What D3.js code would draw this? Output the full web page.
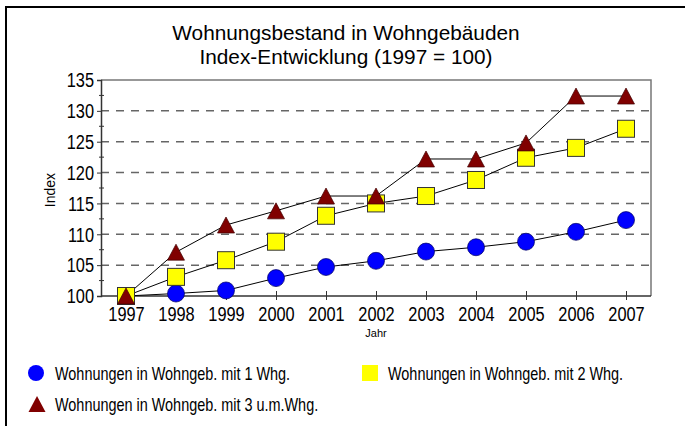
<!DOCTYPE html>
<html>
<head>
<meta charset="utf-8">
<style>
  body { margin: 0; background: #fff; }
  svg { display: block; }
  text { font-family: "Liberation Sans", Arial, sans-serif; }
</style>
</head>
<body>
<div id="chart-area"></div>
<script src="https://cdn.jsdelivr.net/npm/d3@7/dist/d3.min.js"></script>
<script>
// data
var years = ["1997","1998","1999","2000","2001","2002","2003","2004","2005","2006","2007"];
var einWhg = [100, 100.4, 100.9, 102.9, 104.7, 105.7, 107.2, 107.9, 108.8, 110.4, 112.3];
var zweiWhg = [100, 103.1, 105.8, 108.8, 113.0, 115.0, 116.2, 118.8, 122.4, 124.0, 127.1];
var dreiWhg = [100, 107.1, 111.5, 113.8, 116.2, 116.2, 122.2, 122.2, 124.8, 132.4, 132.4];
var seriesNames = ["Wohnungen in Wohngeb. mit 1 Whg.", "Wohnungen in Wohngeb. mit 2 Whg.", "Wohnungen in Wohngeb. mit 3 u.m.Whg."];
var yTicks = [100, 105, 110, 115, 120, 125, 130, 135];

var width = 685, height = 426;
var pLeft = 101, pRight = 651, pTop = 80, pBottom = 296;
var narrow = 0.78;   // no condensed font installed, squeeze Liberation Sans instead

var svg = d3.select("#chart-area").append("svg")
    .attr("width", width).attr("height", height);

// outer frame
svg.append("rect")
    .attr("x", 6).attr("y", 7)
    .attr("width", 700).attr("height", 450)
    .attr("fill", "none").attr("stroke", "#000").attr("stroke-width", 2);

var x = d3.scalePoint().domain(years).range([pLeft, pRight]).padding(0.5);
var y = d3.scaleLinear().domain([100, 135]).range([pBottom, pTop]);

function narrowText(g, tx, ty, size, str, anchor) {
    return g.append("text")
        .attr("transform", `translate(${tx},${ty}) scale(${narrow},1)`)
        .attr("text-anchor", anchor || "start")
        .attr("font-size", size).text(str);
}

// title
svg.append("text")
    .attr("x", 346).attr("y", 39.5).attr("text-anchor", "middle")
    .attr("font-size", 20.8).text("Wohnungsbestand in Wohngebäuden");
svg.append("text")
    .attr("x", 346).attr("y", 63.5).attr("text-anchor", "middle")
    .attr("font-size", 20.8).text("Index-Entwicklung (1997 = 100)");

// grid lines
svg.append("g").selectAll("line")
    .data(yTicks.filter(d => d > 100 && d < 135))
    .enter().append("line")
    .attr("x1", pLeft).attr("x2", pRight)
    .attr("y1", d => y(d)).attr("y2", d => y(d))
    .attr("stroke", "#666").attr("stroke-width", 1.5)
    .attr("stroke-dasharray", "8,7");

// plot frame top / right
svg.append("path")
    .attr("d", `M${pLeft},${pTop}H${pRight}V${pBottom}`)
    .attr("fill", "none").attr("stroke", "#777").attr("stroke-width", 1.5);

// y axis
var yAxis = d3.axisLeft(y).tickValues(yTicks).tickSize(4).tickPadding(3);
var gy = svg.append("g").attr("transform", `translate(${pLeft},0)`).call(yAxis);
gy.attr("font-family", null);
gy.select(".domain").attr("stroke", "#333").attr("stroke-width", 1.5);
gy.selectAll(".tick line").attr("stroke", "#333");
gy.selectAll(".tick text")
    .attr("font-size", 21).attr("fill", "#000")
    .attr("x", -7 / narrow)
    .attr("transform", `scale(${narrow},1)`);
// minor ticks
svg.append("g").selectAll("line")
    .data(d3.range(102.5, 135, 5))
    .enter().append("line")
    .attr("x1", pLeft - 2).attr("x2", pLeft + 3)
    .attr("y1", d => y(d)).attr("y2", d => y(d))
    .attr("stroke", "#333");

// x axis
var xAxis = d3.axisBottom(x).tickSize(4).tickPadding(6).tickSizeOuter(0);
var gx = svg.append("g").attr("transform", `translate(0,${pBottom})`).call(xAxis);
gx.attr("font-family", null);
gx.select(".domain").attr("stroke", "#333").attr("stroke-width", 1.5)
    .attr("d", `M${pLeft},0H${pRight}`);
gx.selectAll(".tick line").attr("y1", -5).attr("stroke", "#333");
gx.selectAll(".tick text")
    .attr("font-size", 21).attr("fill", "#000")
    .attr("transform", `scale(${narrow},1)`);

// axis titles
svg.append("text")
    .attr("transform", "translate(55,190) rotate(-90)")
    .attr("text-anchor", "middle").attr("font-size", 14).text("Index");
svg.append("text")
    .attr("x", 376).attr("y", 337).attr("text-anchor", "middle")
    .attr("font-size", 11).text("Jahr");

// lines
var line = d3.line().x((d, i) => x(years[i])).y(d => y(d));
[einWhg, zweiWhg, dreiWhg].forEach(function(s) {
    svg.append("path").datum(s).attr("d", line)
        .attr("fill", "none").attr("stroke", "#000").attr("stroke-width", 1);
});

function triPath(w, h) {
    return `M0,${-h/2}L${w/2},${h/2}L${-w/2},${h/2}Z`;
}

// markers
svg.append("g").selectAll("circle").data(einWhg).enter().append("circle")
    .attr("cx", (d, i) => x(years[i])).attr("cy", d => y(d)).attr("r", 8.5)
    .attr("fill", "#0000ff").attr("stroke", "#000060").attr("stroke-width", 0.7);
svg.append("g").selectAll("rect").data(zweiWhg).enter().append("rect")
    .attr("x", (d, i) => x(years[i]) - 8.5).attr("y", d => y(d) - 8.5)
    .attr("width", 17).attr("height", 17)
    .attr("fill", "#ffff00").attr("stroke", "#333").attr("stroke-width", 1);
svg.append("g").selectAll("path").data(dreiWhg).enter().append("path")
    .attr("transform", (d, i) => `translate(${x(years[i])},${y(d)})`)
    .attr("d", triPath(17, 16))
    .attr("fill", "#800000").attr("stroke", "#400000").attr("stroke-width", 0.7);

// legend
var lg = svg.append("g");
lg.append("circle").attr("cx", 36).attr("cy", 373).attr("r", 8).attr("fill", "#0000ff");
narrowText(lg, 55, 380, 18.5, seriesNames[0]);
lg.append("rect").attr("x", 362).attr("y", 365).attr("width", 16).attr("height", 16).attr("fill", "#ffff00");
narrowText(lg, 388, 380, 18.5, seriesNames[1]);
lg.append("path").attr("transform", "translate(37,404)").attr("d", triPath(17, 16)).attr("fill", "#800000");
narrowText(lg, 55, 411, 18.5, seriesNames[2]);
</script>
</body>
</html>
